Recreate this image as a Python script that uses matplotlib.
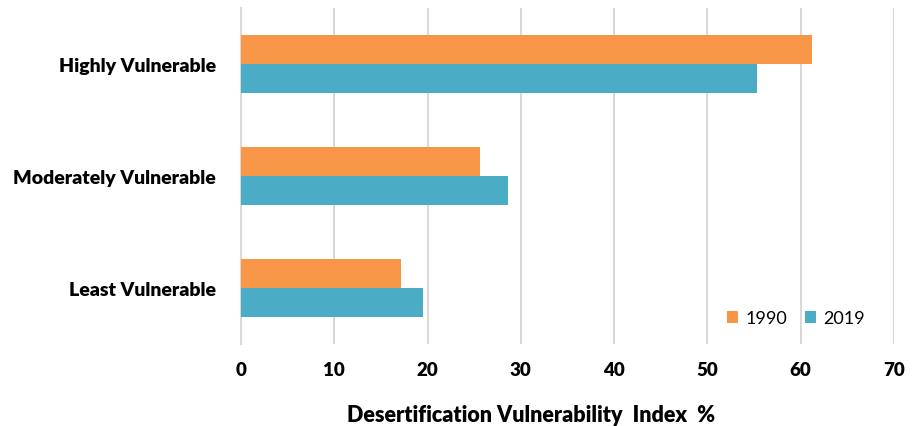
import matplotlib
matplotlib.use('Agg')
import matplotlib.pyplot as plt
import numpy as np

plt.rcParams['font.family'] = ['Lato', 'DejaVu Sans']

categories = ['Highly Vulnerable', 'Moderately Vulnerable', 'Least Vulnerable']
v1990 = [61.2, 25.6, 17.2]
v2019 = [55.3, 28.6, 19.5]
xticks = [0, 10, 20, 30, 40, 50, 60, 70]

fig = plt.figure(figsize=(9.16, 4.27), dpi=100)
ax = fig.add_axes([0.263, 0.192, 0.713, 0.787])

y = np.arange(len(categories))
h = 0.262
ax.barh(y - h / 2, v1990, height=h, color='#F79646', label='1990', zorder=3)
ax.barh(y + h / 2, v2019, height=h, color='#4BACC6', label='2019', zorder=3)

ax.set_ylim(2.5, -0.5)
ax.set_xlim(0, 70)
ax.set_xticks(xticks)
ax.set_yticks(y)
ax.set_yticklabels(categories, fontsize=14, fontweight='heavy')
ax.tick_params(axis='x', labelsize=13.5, length=0, pad=12)
ax.tick_params(axis='y', length=0, pad=18)
for lab in ax.get_xticklabels():
    lab.set_fontweight('heavy')

ax.grid(axis='x', color='#D9D9D9', lw=1.5, zorder=0)
for s in ['top', 'right', 'bottom']:
    ax.spines[s].set_visible(False)
ax.spines['left'].set_color('#D9D9D9')
ax.spines['left'].set_linewidth(1.5)

fig.text(0.58, 0.028, 'Desertification Vulnerability  Index  %', fontsize=15.5,
         fontweight='heavy', ha='center', va='center')

ax.legend(loc='lower right', bbox_to_anchor=(0.977, 0.01), ncol=2, frameon=False,
          fontsize=13, handlelength=0.6, handleheight=0.6, columnspacing=1.0,
          handletextpad=0.4, borderpad=0.3)

fig.savefig('out.png', dpi=100)
